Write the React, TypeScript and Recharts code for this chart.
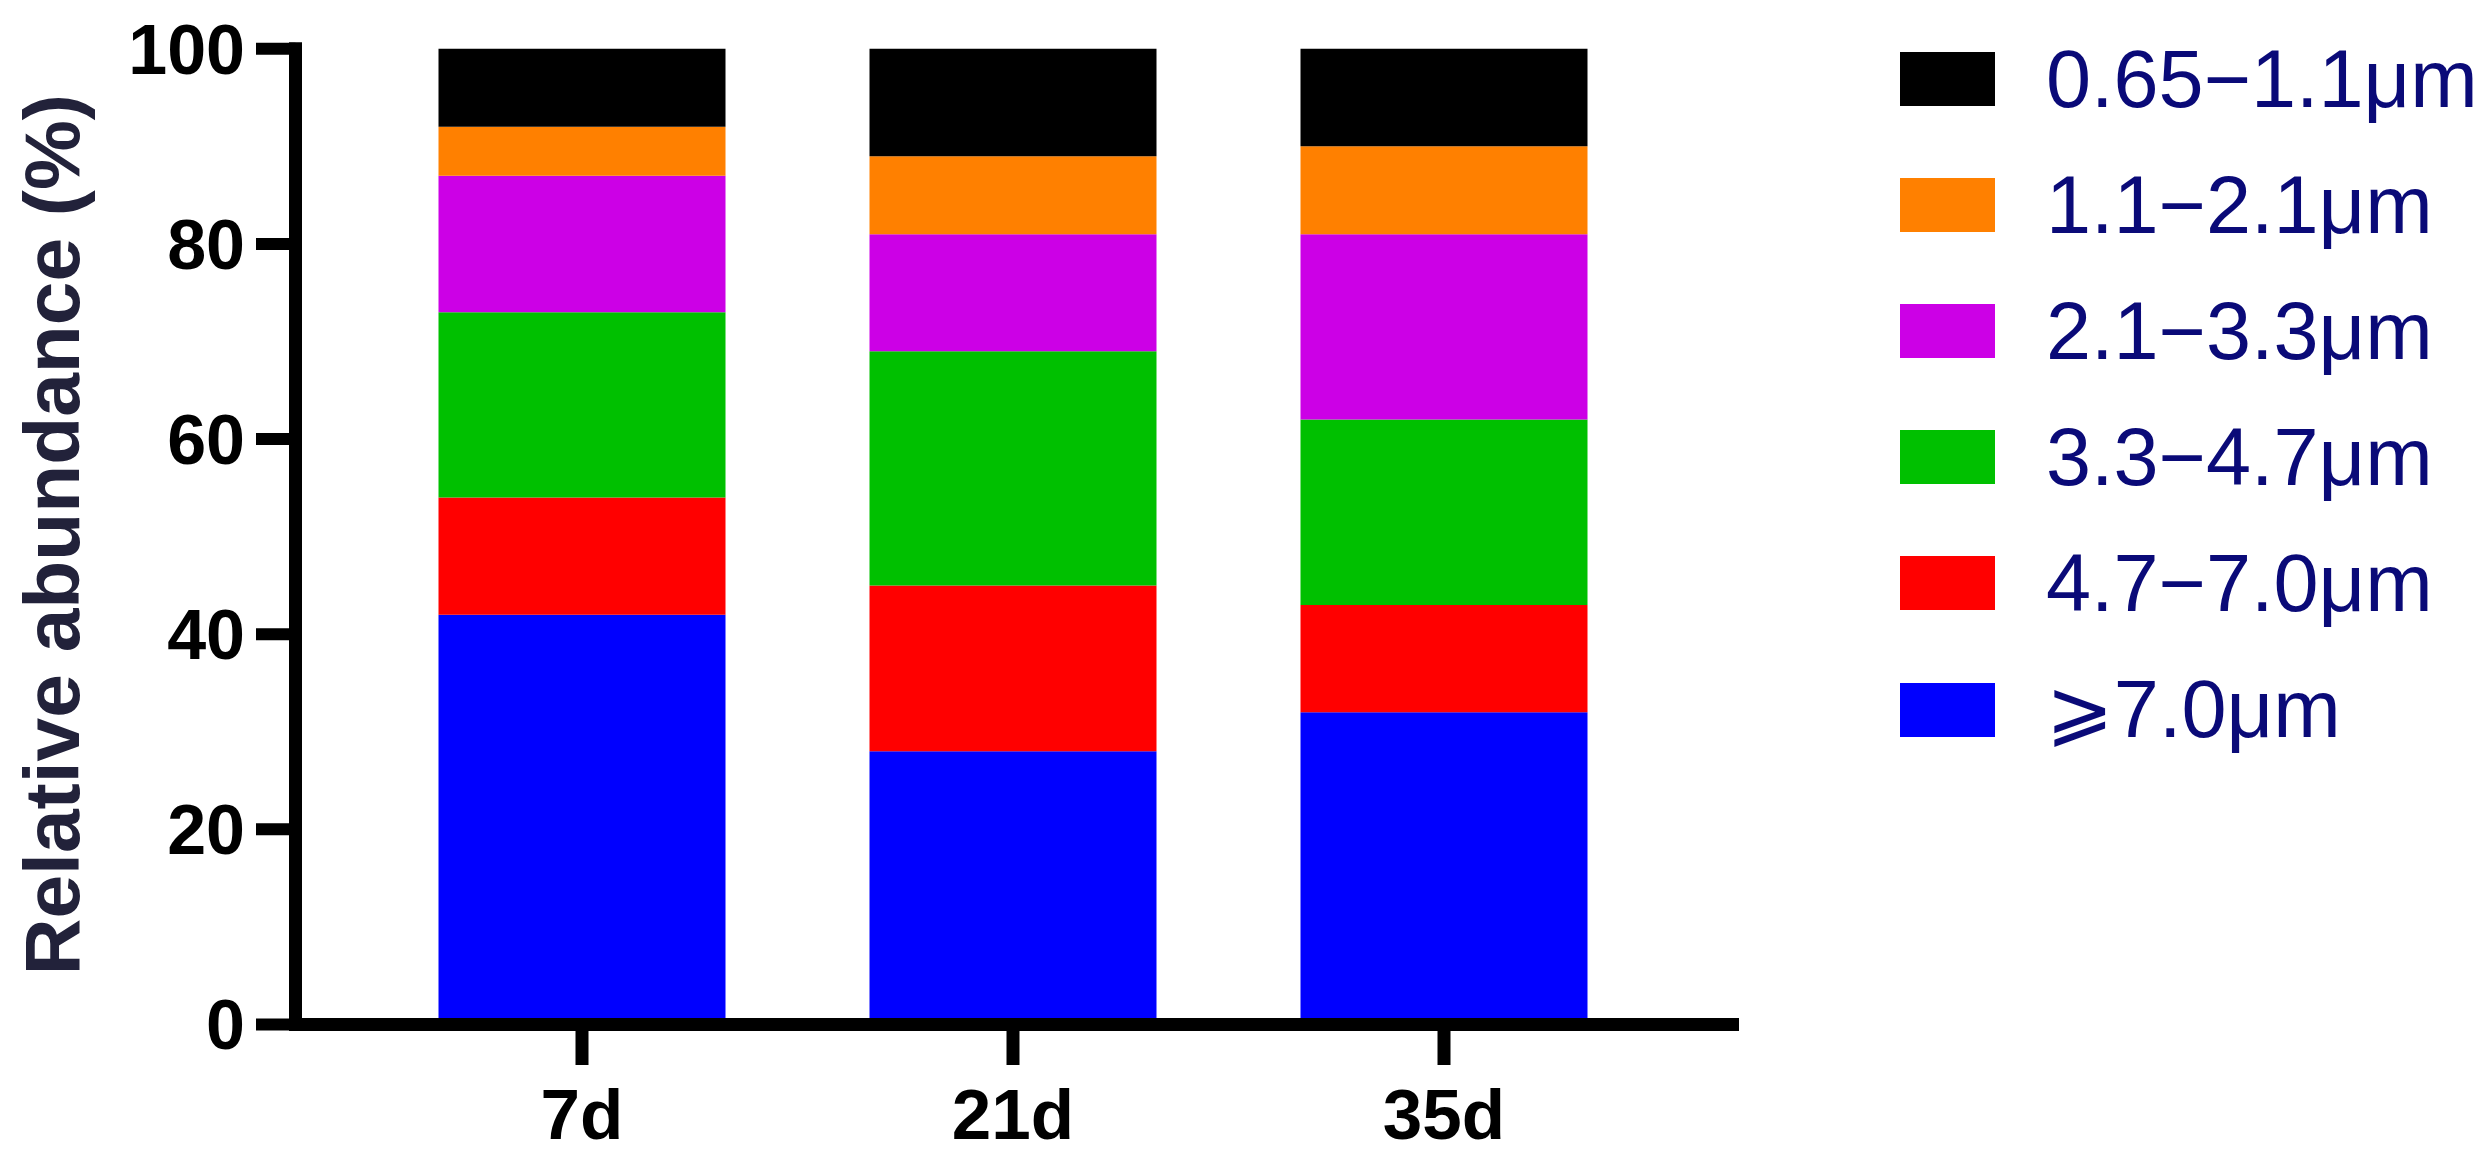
import React from "react";
import { BarChart, Bar, XAxis, YAxis, Legend } from "recharts";

const categories = ["7d", "21d", "35d"];
const ge70 = [42, 28, 32];
const r47to70 = [12, 17, 11];
const r33to47 = [19, 24, 19];
const r21to33 = [14, 12, 19];
const r11to21 = [5, 8, 9];
const r065to11 = [8, 11, 10];
const yTicks = [0, 20, 40, 60, 80, 100];

const seriesNames = ["⩾7.0μm", "4.7−7.0μm", "3.3−4.7μm", "2.1−3.3μm", "1.1−2.1μm", "0.65−1.1μm"];
const seriesKeys = ["s0", "s1", "s2", "s3", "s4", "s5"];
const seriesColors = ["#0000FF", "#FF0000", "#00C000", "#CC00E6", "#FF8000", "#000000"];
const seriesValues = [ge70, r47to70, r33to47, r21to33, r11to21, r065to11];

const data = categories.map((c, i) => {
  const row: Record<string, any> = { name: c };
  seriesKeys.forEach((k, j) => {
    row[k] = seriesValues[j][i];
  });
  return row;
});

const FONT = "'Liberation Sans', Arial, Helvetica, sans-serif";

const LegendContent = () => {
  const order = seriesKeys.map((_, i) => i).reverse();
  return (
    <div style={{ fontFamily: FONT }}>
      {order.map((i) => (
        <div
          key={seriesKeys[i]}
          style={{ display: "flex", alignItems: "center", height: 126.1 }}
        >
          <div style={{ width: 95, height: 54, background: seriesColors[i], flex: "none" }} />
          <div
            style={{
              marginLeft: 51,
              fontSize: 81,
              lineHeight: "81px",
              color: "#0A0A78",
              whiteSpace: "nowrap",
              fontFamily: seriesNames[i].startsWith("⩾") ? "'Liberation Sans', 'DejaVu Sans', sans-serif" : FONT,
            }}
          >
            {seriesNames[i]}
          </div>
        </div>
      ))}
    </div>
  );
};

const YLabel = (props: any) => {
  const vb = props.viewBox || { x: 0, y: 0, width: 0, height: 0 };
  const x = vb.x + 79;
  const y = vb.y + vb.height / 2 - 2;
  return (
    <text
      x={x}
      y={y}
      transform={`rotate(-90, ${x}, ${y})`}
      textAnchor="middle"
      fontFamily={FONT}
      fontWeight="bold"
      fontSize={78.5}
      fill="#22223A"
    >
      Relative abundance (%)
    </text>
  );
};

export default function App() {
  return (
    <div style={{ position: "absolute", left: 0, top: 0, width: 2488, height: 1165, background: "#fff" }}>
      <BarChart
        width={2488}
        height={1165}
        data={data}
        margin={{ top: 48.8, right: 755.5, bottom: 0, left: 0 }}
        barSize={287}
      >
        <XAxis
          dataKey="name"
          height={140.5}
          padding={{ left: 71, right: 73 }}
          axisLine={{ stroke: "#000", strokeWidth: 13, strokeLinecap: "square" } as any}
          tickLine={{ stroke: "#000", strokeWidth: 13 }}
          tickSize={40.5}
          tickMargin={24}
          tick={{ fill: "#000", fontSize: 71, fontWeight: "bold", fontFamily: FONT }}
        />
        <YAxis
          width={295.5}
          domain={[0, 100]}
          ticks={yTicks}
          interval={0}
          axisLine={{ stroke: "#000", strokeWidth: 13, strokeLinecap: "square" } as any}
          tickLine={{ stroke: "#000", strokeWidth: 12 }}
          tickSize={39.5}
          tickMargin={11}
          tick={{ fill: "#000", fontSize: 70, fontWeight: "bold", fontFamily: FONT }}
          label={<YLabel />}
        />
        <Legend
          layout="vertical"
          align="center"
          verticalAlign="middle"
          content={<LegendContent />}
          wrapperStyle={{ left: 1900, top: 16, width: 588 }}
        />
        {seriesKeys.map((k, i) => (
          <Bar
            key={k}
            dataKey={k}
            name={seriesNames[i]}
            stackId="a"
            fill={seriesColors[i]}
            isAnimationActive={false}
          />
        ))}
      </BarChart>
    </div>
  );
}
